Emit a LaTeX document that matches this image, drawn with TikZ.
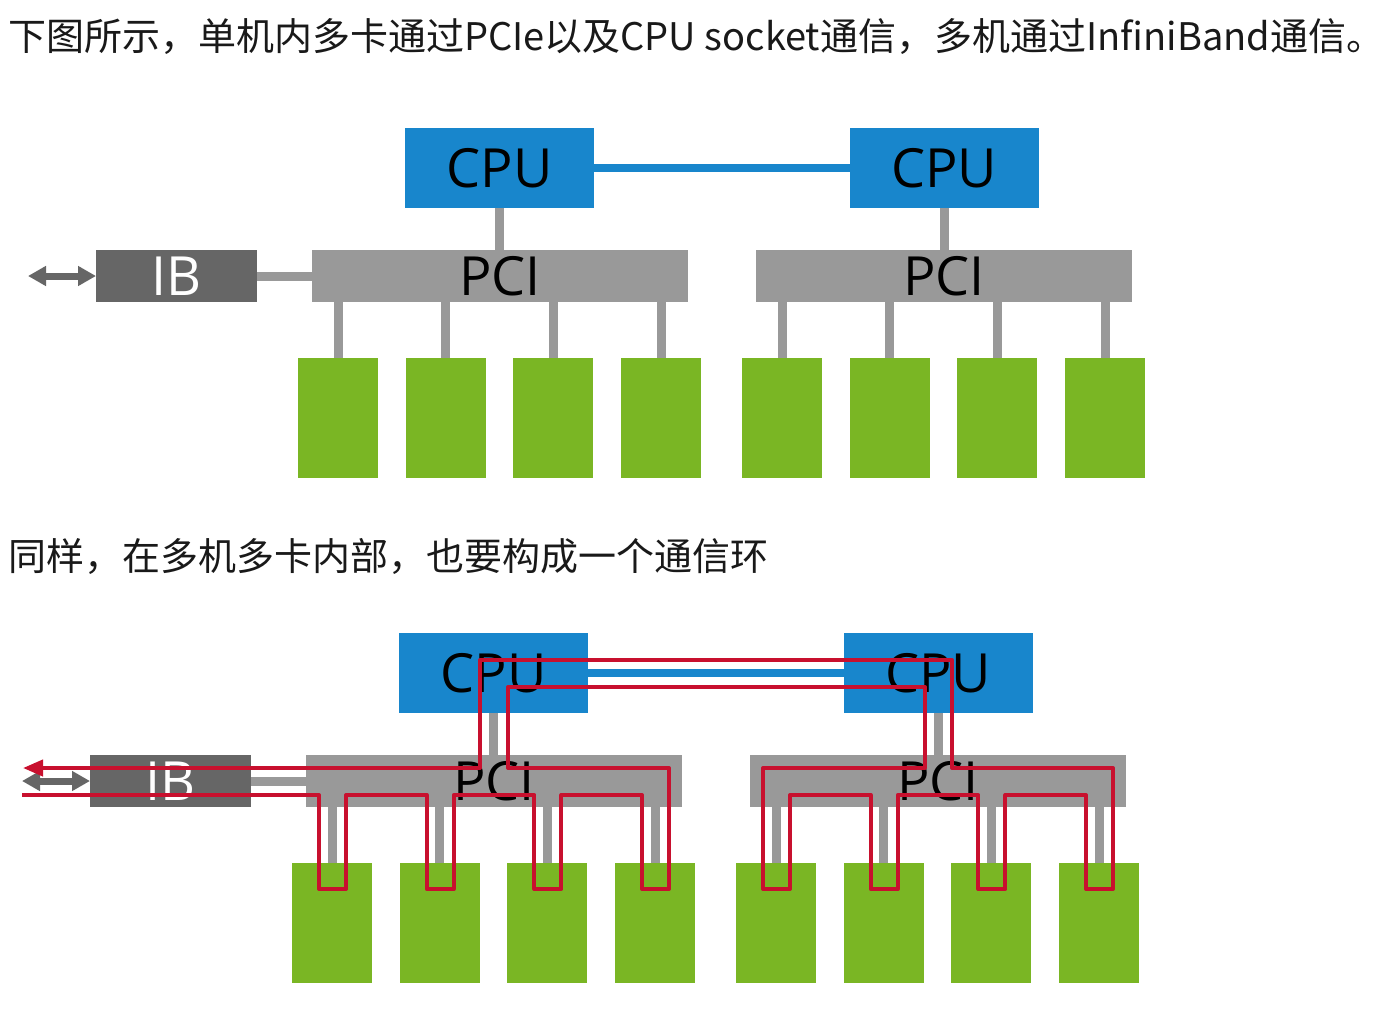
\documentclass[tikz,border=0pt]{standalone}
\usepackage{fontspec}
\usetikzlibrary{arrows.meta}
\newfontfamily\cjkfont{Noto Sans CJK SC}
\newfontfamily\boxfont{Open Sans}
\definecolor{cpublue}{HTML}{1886CC}
\definecolor{pcigray}{HTML}{999999}
\definecolor{ibgray}{HTML}{666666}
\definecolor{gpugreen}{HTML}{7AB624}
\definecolor{ringred}{HTML}{C8102E}

\begin{document}
\begin{tikzpicture}[x=1pt, y=-1pt,
  box/.style={inner sep=0pt, outer sep=0pt, font=\boxfont\fontsize{54}{54}\selectfont},
  cpu/.style={box, fill=cpublue, minimum width=189pt, minimum height=80pt},
  pci/.style={box, fill=pcigray, minimum width=376pt, minimum height=52pt},
  ib/.style={box, fill=ibgray, text=white, minimum width=161pt, minimum height=52pt},
  gpu/.style={box, fill=gpugreen, minimum width=80pt, minimum height=120pt},
  wire/.style={draw=pcigray, line width=9pt},
  link/.style={draw=cpublue, line width=8pt},
  bus/.style={draw=ibgray, line width=7pt, {Triangle[length=18pt,width=19pt]}-{Triangle[length=18pt,width=19pt]}},
  ring/.style={draw=ringred, line width=4pt, line join=round, -{Triangle[length=20pt,width=16pt]}},
  title/.style={inner sep=0pt, anchor=base west, text=black!90, font=\cjkfont\fontsize{38}{38}\selectfont}]
  \fill[white] (0,0) rectangle (1396,1012);
  \useasboundingbox (0,0) rectangle (1396,1012);

  \node[title] (head) at (8,50) {下图所示，单机内多卡通过PCIe以及CPU socket通信，多机通过InfiniBand通信。};
  \node[title] (note) at (8,570) {同样，在多机多卡内部，也要构成一个通信环};

  % the same two-machine layout, drawn twice
  \foreach \p/\sx/\sy in {t/0/0, b/-6/505} {
    \begin{scope}[shift={(\sx,\sy)}]
      \node[cpu] (\p cpuA) at (499.5,168) {CPU};
      \node[cpu] (\p cpuB) at (944,168) {CPU};
      \node[pci] (\p pciA) at (500,276) {PCI};
      \node[pci] (\p pciB) at (944,276) {PCI};
      \node[ib]  (\p ib)   at (176.5,276) {IB};
      \coordinate (\p out) at (28,276);

      \draw[link] (\p cpuA.east) -- (\p cpuB.west);
      \draw[wire] (\p cpuA.south) -- (\p cpuA.south |- \p pciA.north);
      \draw[wire] (\p cpuB.south) -- (\p cpuB.south |- \p pciB.north);
      \draw[wire] (\p ib.east) -- (\p pciA.west);
      \draw[bus]  (\p out) -- (\p ib.west);

      \foreach \i/\x/\s in {1/338/A, 2/445.7/A, 3/553.4/A, 4/661.1/A,
                            5/782/B, 6/889.7/B, 7/997.4/B, 8/1105.1/B} {
        \node[gpu] (\p g\i) at (\x,418) {};
        \draw[wire] (\p g\i.north) -- (\p g\i.north |- \p pci\s.south);
      }
    \end{scope}
  }

  % ring through all cards
  \begin{scope}[shift={(-6,505)}]
    \draw[ring] (28,290)
      \foreach \x in {338,445.7,553.4} { -- (\x-13,290) -- (\x-13,384) -- (\x+14,384) -- (\x+14,290) }
      -- (648,290) -- (648,384) -- (675,384) -- (675,263)
      -- (514,263) -- (514,182) -- (931,182) -- (931,263)
      -- (769,263) -- (769,384) -- (796,384) -- (796,290)
      \foreach \x in {889.7,997.4} { -- (\x-13,290) -- (\x-13,384) -- (\x+14,384) -- (\x+14,290) }
      -- (1092,290) -- (1092,384) -- (1119,384) -- (1119,263)
      -- (958,263) -- (958,155) -- (486,155) -- (486,263) -- (29,263);
  \end{scope}
\end{tikzpicture}
\end{document}
